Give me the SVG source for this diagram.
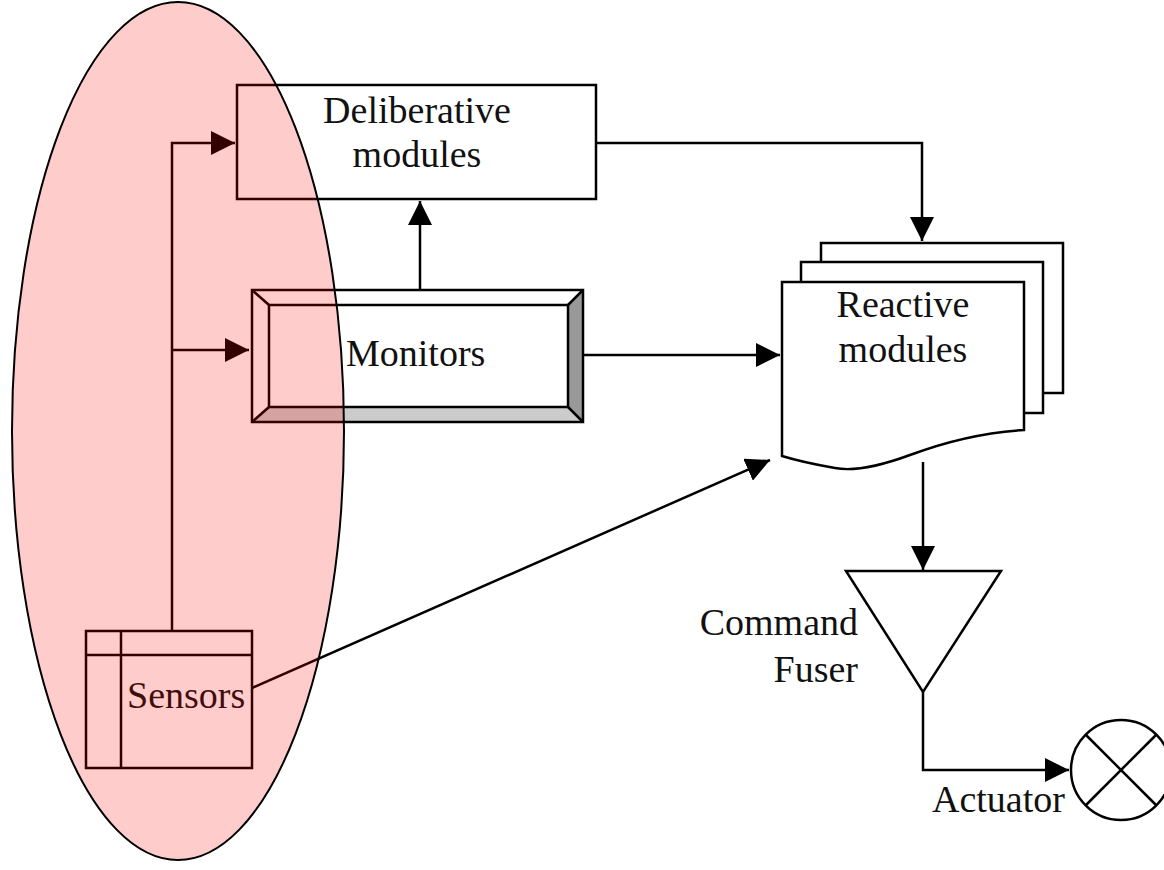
<svg xmlns="http://www.w3.org/2000/svg" width="1164" height="870" viewBox="0 0 1164 870">
  <style>
    .box { fill: #fff; stroke: #000; stroke-width: 2.5; }
    .line { fill: none; stroke: #000; stroke-width: 2.5; }
    .lbl { font-family: 'Liberation Serif', 'DejaVu Serif', serif; font-size: 38px; fill: #111; }
    .mid { text-anchor: middle; }
  </style>
  <defs>
    <marker id="arrow" viewBox="0 0 24 24" refX="24" refY="12" markerWidth="24" markerHeight="24" markerUnits="userSpaceOnUse" orient="auto">
      <path d="M0,0 L24,12 L0,24 Z" fill="#000"/>
    </marker>
  </defs>
  <rect width="1164" height="870" fill="#fff"/>

  <g id="connectors">
    <!-- sensors bus up to deliberative and monitors -->
    <polyline class="line" points="172,631 172,143 235,143" marker-end="url(#arrow)"/>
    <line class="line" x1="172" y1="350" x2="249" y2="350" marker-end="url(#arrow)"/>
    <!-- monitors up to deliberative -->
    <line class="line" x1="420" y1="290" x2="420" y2="201" marker-end="url(#arrow)"/>
    <!-- deliberative to reactive -->
    <polyline class="line" points="596,143 922,143 922,241" marker-end="url(#arrow)"/>
    <!-- monitors to reactive -->
    <line class="line" x1="584" y1="355" x2="780" y2="355" marker-end="url(#arrow)"/>
    <!-- sensors to reactive -->
    <line class="line" x1="252" y1="688" x2="770" y2="460" marker-end="url(#arrow)"/>
    <!-- reactive to fuser -->
    <line class="line" x1="923" y1="462" x2="923" y2="570" marker-end="url(#arrow)"/>
    <!-- fuser to actuator -->
    <polyline class="line" points="923,692 923,770 1069,770" marker-end="url(#arrow)"/>
  </g>

  <g id="deliberative">
    <rect class="box" x="237" y="85" width="359" height="114"/>
    <text class="lbl mid" x="417" y="123" font-family="Liberation Serif, serif">Deliberative</text>
    <text class="lbl mid" x="417" y="167" font-family="Liberation Serif, serif">modules</text>
  </g>

  <g id="monitors">
    <rect x="252" y="290" width="331" height="132" fill="#fff"/>
    <!-- bevel faces -->
    <polygon points="568,305 583,290 583,422 568,407" fill="#999"/>
    <polygon points="269,407 568,407 583,422 252,422" fill="#ccc"/>
    <rect x="252" y="290" width="331" height="132" fill="none" stroke="#000" stroke-width="2.5"/>
    <rect x="269" y="305" width="299" height="102" fill="none" stroke="#000" stroke-width="2.5"/>
    <line class="line" x1="252" y1="290" x2="269" y2="305"/>
    <line class="line" x1="583" y1="290" x2="568" y2="305"/>
    <line class="line" x1="252" y1="422" x2="269" y2="407"/>
    <line class="line" x1="583" y1="422" x2="568" y2="407"/>
    <text class="lbl" x="346" y="366">Monitors</text>
  </g>

  <g id="reactive">
    <rect class="box" x="821" y="243" width="242" height="150"/>
    <rect class="box" x="801" y="262" width="242" height="151"/>
    <path class="box" d="M782,282 L1024,282 L1024,430 C990,432 950,440 910,455 C880,466 855,472 835,468 C812,464 795,460 782,456 Z"/>
    <text class="lbl mid" x="903" y="317">Reactive</text>
    <text class="lbl mid" x="903" y="362">modules</text>
  </g>

  <g id="fuser">
    <polygon class="box" points="846,571 1001,571 923,692"/>
    <text class="lbl" x="858" y="635" text-anchor="end">Command</text>
    <text class="lbl" x="858" y="682" text-anchor="end">Fuser</text>
  </g>

  <g id="actuator">
    <circle class="box" cx="1121" cy="770" r="50"/>
    <line class="line" x1="1086" y1="735" x2="1156" y2="805"/>
    <line class="line" x1="1086" y1="805" x2="1156" y2="735"/>
    <text class="lbl" x="932" y="812">Actuator</text>
  </g>

  <g id="sensors">
    <rect class="box" x="86" y="631" width="166" height="137"/>
    <line class="line" x1="121" y1="631" x2="121" y2="768"/>
    <line class="line" x1="86" y1="655" x2="252" y2="655"/>
    <text class="lbl" x="127" y="708">Sensors</text>
  </g>

  <g id="sensing-region">
    <ellipse cx="178" cy="431" rx="166" ry="429" fill="#f00" fill-opacity="0.2" stroke="#000" stroke-width="2"/>
  </g>
</svg>
